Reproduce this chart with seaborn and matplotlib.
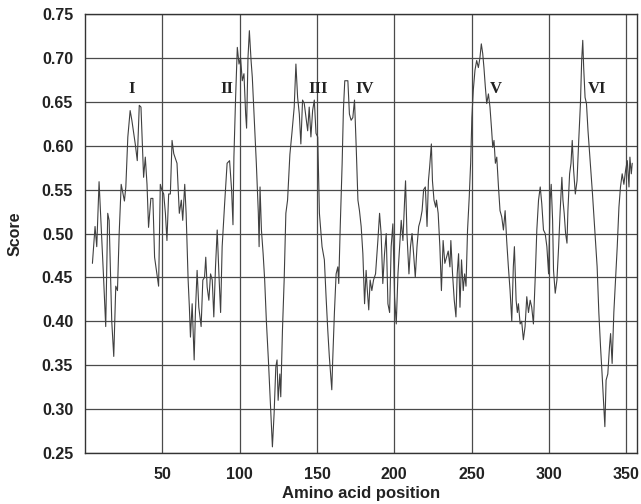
import matplotlib
matplotlib.use("Agg")
import matplotlib.pyplot as plt
import pandas as pd
import seaborn as sns

# Score profile (position, score)
positions = [
    4.8, 6.5, 7.6, 9.1, 9.7, 11.9, 13.4, 14.7, 15.6, 17.3, 18.6, 19.9, 21.0,
    22.1, 23.4, 25.5, 26.4, 27.7, 29.2, 30.3, 32.5, 33.8, 35.1, 36.2, 37.9,
    39.0, 40.1, 41.1, 42.6, 43.9, 45.0,
    47.6, 48.7, 49.8, 50.9, 52.0, 53.0, 54.1, 55.2, 56.3, 57.4, 59.5, 61.0,
    62.3, 63.2, 64.5, 65.4, 66.7, 67.5, 68.2, 69.3, 70.6, 71.4, 72.5, 73.6,
    75.1, 76.2, 77.3, 78.1, 79.0, 80.1, 81.2, 82.3, 83.3, 84.4, 85.5, 86.6,
    87.7, 88.7, 90.3,
    91.9, 93.5, 94.8, 95.7, 96.3, 97.4, 98.5, 99.6, 100.6, 101.7, 102.8,
    103.9, 104.5, 105.4, 106.3, 107.4, 108.2, 109.3, 110.8, 112.1, 112.6,
    113.2, 114.1, 115.2, 116.2, 117.3, 118.6, 119.7, 120.8, 121.2, 122.3,
    123.4, 124.2, 124.9, 126.0, 126.6, 127.7, 128.8, 129.9, 131.0, 132.5,
    133.8, 135.3,
    136.4, 137.5, 138.6, 139.6, 140.7, 141.8, 142.9, 144.0, 145.0, 146.1,
    147.2, 148.3, 149.4, 150.5, 151.6, 153.3, 154.8, 155.9, 157.0, 158.0,
    159.6, 160.2, 161.3, 162.4, 163.5, 164.1, 165.0, 166.3, 167.1, 168.0,
    168.9, 170.0, 171.0, 172.1, 173.2, 174.3, 175.4, 176.5, 177.5, 178.6,
    179.7, 180.8,
    181.8, 182.4, 183.5, 184.4, 185.5, 186.6, 187.9, 189.4, 190.5, 191.5,
    192.6, 193.7, 194.8, 195.9, 197.0, 198.0, 199.1, 200.2, 201.3, 202.4,
    203.5, 204.5, 205.6, 206.7, 207.3, 208.2, 209.5, 210.5, 211.5, 212.5,
    213.6, 214.7, 215.8, 216.9, 218.0, 219.0, 220.1, 221.2, 222.1, 222.9,
    224.0, 224.7, 225.7, 226.8,
    227.3, 228.4, 229.5, 230.5, 231.6, 232.7, 233.8, 234.9, 236.0, 236.6,
    237.7, 238.8, 239.9, 240.7, 241.6, 242.5, 243.5, 244.6, 245.5, 246.4,
    247.4, 248.5, 249.4, 250.2, 251.1, 252.2, 253.3, 254.4, 255.4, 256.3,
    257.2, 258.0, 258.9, 259.8, 260.9, 261.9, 263.0, 263.7, 264.5, 265.4,
    266.3, 267.4, 268.4, 269.5, 270.6, 271.7,
    272.7, 273.8, 274.9, 276.0, 277.0, 277.7, 278.8, 279.6, 280.3, 281.4,
    282.4, 283.5, 284.6, 285.7, 286.8, 287.9, 288.9, 290.0, 291.1, 292.2,
    293.3, 294.4, 295.4, 296.5, 297.6, 298.7, 299.8, 300.8, 301.5, 302.4,
    303.0, 304.1, 305.2, 306.3, 307.3, 308.4, 309.1, 309.9, 310.8, 311.7,
    312.3, 313.4, 314.3, 315.1, 316.0, 317.1,
    318.2, 319.3, 320.4, 321.2, 321.9, 322.5, 323.4, 324.3, 325.3, 326.4,
    327.3, 328.2, 329.0, 330.1, 331.2, 332.3, 333.4, 334.4, 335.5, 336.2,
    337.0, 338.1, 339.2, 339.9, 340.9, 342.0, 343.1, 344.2, 345.3, 346.3,
    347.4, 348.5, 349.6, 350.7, 351.8, 352.4, 353.3, 353.9,
]
scores = [
    0.466, 0.508, 0.485, 0.559, 0.537, 0.454, 0.394, 0.523, 0.515, 0.400,
    0.360, 0.440, 0.435, 0.500, 0.556, 0.537, 0.553, 0.610, 0.640, 0.629,
    0.602, 0.583, 0.646, 0.644, 0.564, 0.587, 0.556, 0.507, 0.540, 0.540,
    0.473,
    0.440, 0.556, 0.549, 0.545, 0.523, 0.492, 0.545, 0.545, 0.606, 0.591,
    0.580, 0.523, 0.538, 0.515, 0.556, 0.523, 0.447, 0.416, 0.382, 0.420,
    0.356, 0.410, 0.458, 0.416, 0.394, 0.447, 0.450, 0.473, 0.439, 0.424,
    0.454, 0.447, 0.405, 0.462, 0.504, 0.454, 0.410, 0.485, 0.534,
    0.580, 0.583, 0.550, 0.510, 0.587, 0.655, 0.712, 0.693, 0.700, 0.674,
    0.682, 0.636, 0.620, 0.700, 0.731, 0.697, 0.678, 0.636, 0.580, 0.523,
    0.485, 0.553, 0.504, 0.477, 0.447, 0.400, 0.356, 0.314, 0.272, 0.257,
    0.295, 0.348, 0.356, 0.310, 0.340, 0.314, 0.390, 0.447, 0.523, 0.538,
    0.590, 0.614, 0.644,
    0.693, 0.655, 0.636, 0.602, 0.652, 0.648, 0.632, 0.617, 0.644, 0.610,
    0.640, 0.652, 0.614, 0.610, 0.523, 0.485, 0.470, 0.428, 0.390, 0.360,
    0.322, 0.356, 0.410, 0.454, 0.462, 0.443, 0.504, 0.580, 0.640, 0.674,
    0.674, 0.674, 0.636, 0.629, 0.632, 0.652, 0.598, 0.538, 0.526, 0.508,
    0.477, 0.420,
    0.458, 0.440, 0.413, 0.447, 0.435, 0.447, 0.454, 0.492, 0.523, 0.500,
    0.443, 0.477, 0.500, 0.420, 0.410, 0.485, 0.511, 0.428, 0.397, 0.454,
    0.485, 0.515, 0.492, 0.538, 0.560, 0.500, 0.454, 0.485, 0.500, 0.477,
    0.450, 0.485, 0.508, 0.515, 0.526, 0.550, 0.553, 0.508, 0.560, 0.576,
    0.602, 0.560, 0.538, 0.530,
    0.538, 0.523, 0.485, 0.435, 0.492, 0.466, 0.473, 0.480, 0.462, 0.492,
    0.454, 0.424, 0.405, 0.454, 0.477, 0.416, 0.470, 0.435, 0.454, 0.440,
    0.504, 0.542, 0.580, 0.632, 0.663, 0.686, 0.697, 0.689, 0.700, 0.716,
    0.705, 0.689, 0.667, 0.648, 0.659, 0.644, 0.617, 0.598, 0.606, 0.580,
    0.587, 0.553, 0.526, 0.519, 0.504, 0.526,
    0.492, 0.462, 0.435, 0.400, 0.462, 0.485, 0.424, 0.410, 0.420, 0.397,
    0.400, 0.379, 0.394, 0.428, 0.410, 0.424, 0.416, 0.397, 0.447, 0.504,
    0.538, 0.553, 0.534, 0.504, 0.500, 0.485, 0.454, 0.538, 0.556, 0.515,
    0.458, 0.432, 0.447, 0.485, 0.526, 0.564, 0.538, 0.523, 0.500, 0.489,
    0.526, 0.568, 0.580, 0.606, 0.572, 0.545,
    0.560, 0.606, 0.648, 0.697, 0.720, 0.689, 0.655, 0.648, 0.617, 0.590,
    0.568, 0.545, 0.523, 0.492, 0.462, 0.410, 0.371, 0.340, 0.303, 0.280,
    0.333, 0.340, 0.371, 0.386, 0.352, 0.410, 0.447, 0.485, 0.530, 0.553,
    0.568, 0.556, 0.572, 0.583, 0.553, 0.587, 0.568, 0.580,
]

# Region labels and where they sit
region_names = ["I", "II", "III", "IV", "V", "VI"]
region_x = [30, 92, 151, 181, 266, 331]
region_y = 0.665

x_ticks = [50, 100, 150, 200, 250, 300, 350]
y_ticks = [0.25, 0.30, 0.35, 0.40, 0.45, 0.50, 0.55, 0.60, 0.65, 0.70, 0.75]


def main():
    sns.set_style("white")
    plt.rcParams["font.family"] = ["Liberation Sans", "DejaVu Sans"]

    df = pd.DataFrame({"position": positions, "score": scores})

    fig = plt.figure(figsize=(6.41, 5.04), dpi=100)
    ax = fig.add_axes([0.1326, 0.1012, 0.8612, 0.871])

    sns.lineplot(data=df, x="position", y="score", ax=ax, estimator=None,
                 sort=False, color="#404040", linewidth=0.8)

    ax.set_xlim(0, 357)
    ax.set_ylim(0.25, 0.75)
    ax.set_xticks(x_ticks)
    ax.set_yticks(y_ticks)
    ax.set_yticklabels([f"{v:.2f}" for v in y_ticks])
    ax.grid(True, color="#4a4a4a", linewidth=0.9)
    ax.set_axisbelow(True)

    for sp in ax.spines.values():
        sp.set_color("#333333")
        sp.set_linewidth(1.0)

    ax.tick_params(axis="both", length=2.5, width=0.8, color="#333333",
                   labelsize=11.5, labelcolor="#222222")
    ax.tick_params(axis="y", pad=6)
    ax.tick_params(axis="x", pad=7.5)
    for lab in ax.get_xticklabels() + ax.get_yticklabels():
        lab.set_fontweight("bold")

    ax.set_xlabel("Amino acid position", fontsize=12, fontweight="bold",
                  color="#222222", labelpad=3)
    ax.set_ylabel("Score", fontsize=11.5, fontweight="bold",
                  color="#222222", labelpad=14)

    for name, xpos in zip(region_names, region_x):
        ax.text(xpos, region_y, name, ha="center", va="center",
                fontsize=12, family=["Liberation Serif", "DejaVu Serif"],
                fontweight="semibold", color="#222222")

    plt.savefig("out.png", dpi=100)
    return


if __name__ == "__main__":
    main()
